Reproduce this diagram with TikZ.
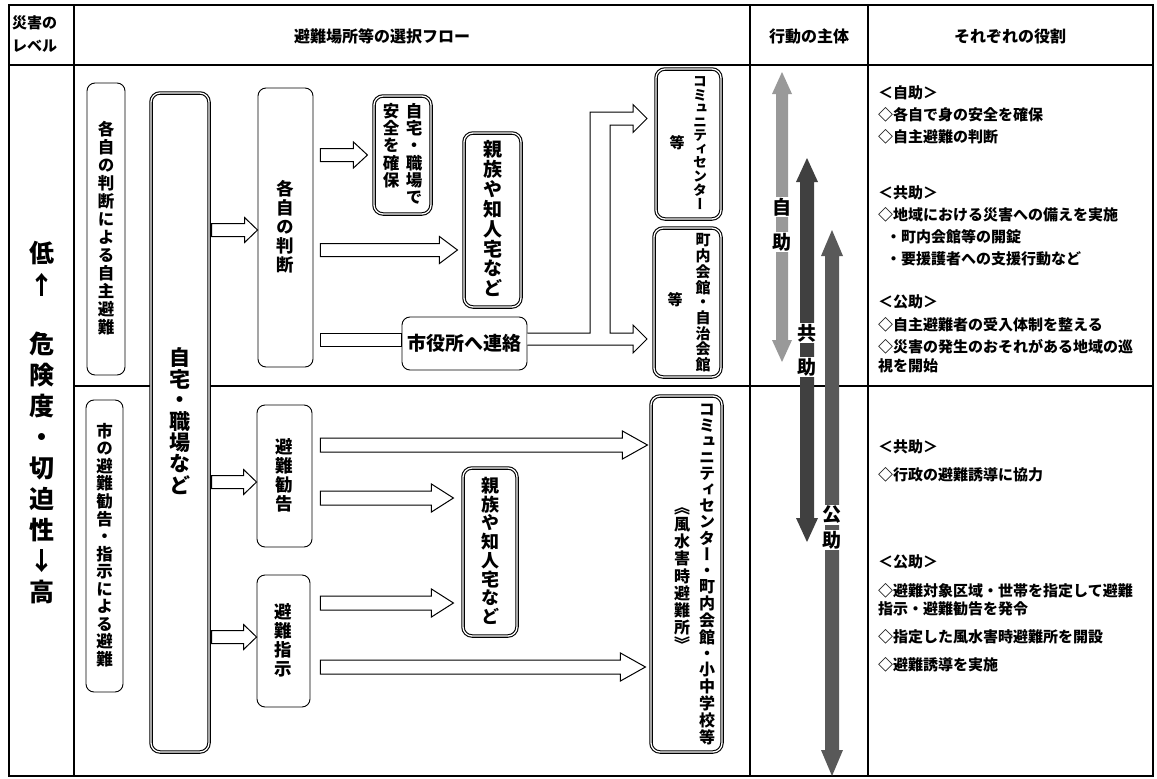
\documentclass[tikz,border=0pt]{standalone}
\usepackage{fontspec}
\setmainfont{Noto Sans CJK JP}
\newfontfamily\jpv[RawFeature=+vert]{Noto Sans CJK JP}
\usetikzlibrary{calc}
\makeatletter
\newcommand\vt[2]{\vtop{\offinterlineskip\@tfor\vt@c:=#2\do{\hbox to #1{\hss\vrule height \dimexpr #1*80/100\relax depth \dimexpr #1*20/100\relax width 0pt\relax\vt@c\hss}}}}
\makeatother
\newcommand\vf[1]{\jpv\bfseries\fontsize{#1}{#1}\selectfont}
% fat outline arrow: from, to, y, start gap, end gap, head length, shaft half, head half
\newcommand\fatar[8]{\draw[fatline] let \p1=(#1 |- 0,#3), \p2=(#2 |- 0,#3) in
 (\x1+#4,\y1+#7) -- (\x2-#5-#6,\y1+#7) -- (\x2-#5-#6,\y1+#8) -- (\x2-#5,\y1) -- (\x2-#5-#6,\y1-#8) -- (\x2-#5-#6,\y1-#7) -- (\x1+#4,\y1-#7) -- cycle;}
% vertical double arrow: x, ytop, ybot, shaft half, head half, head length, style
\newcommand\varr[7]{\fill[#7] (#1-#4,#2+#6) -- (#1-#5,#2+#6) -- (#1,#2) -- (#1+#5,#2+#6) -- (#1+#4,#2+#6) -- (#1+#4,#3-#6) -- (#1+#5,#3-#6) -- (#1,#3) -- (#1-#5,#3-#6) -- (#1-#4,#3-#6) -- cycle;}
\begin{document}
\begin{tikzpicture}[x=1pt,y=-1pt,
 sbox/.style={draw, line width=0.9pt, rounded corners=8pt, fill=white, inner sep=0pt},
 dbox/.style={draw, double, double distance=1.3pt, line width=1.1pt, rounded corners=9pt, fill=white, inner sep=0pt},
 fatline/.style={draw, line width=1pt, fill=white, line join=miter},
 tl/.style={inner sep=0pt},
 grid/.style={line width=1.3pt},
 role/.style={anchor=west, inner sep=0pt, font=\bfseries\fontsize{15}{15}\selectfont},
 hdr/.style={inner sep=0pt, font=\bfseries\fontsize{16}{16}\selectfont},
 actor/.style={fill=white, inner sep=1pt, font=\bfseries\fontsize{19}{19}\selectfont}]
\fill[white] (0,0) rectangle (1157,779);
\useasboundingbox (0,0) rectangle (1157,779);
% table grid
\draw[grid] (9,5) rectangle (1153,776);
\draw[grid] (9,65) -- (1153,65);
\draw[grid] (74,5) -- (74,776);
\draw[grid] (750,5) -- (750,776);
\draw[grid] (868,5) -- (868,776);
\draw[grid] (74,386) -- (1153,386);
% headers
\node[tl, anchor=west, font=\bfseries\fontsize{15}{15}\selectfont] (h1a) at (12,23) {災害の};
\node[tl, anchor=west, font=\bfseries\fontsize{15}{15}\selectfont] (h1b) at (12,46) {レベル};
\node[hdr] (h2) at (382,36) {避難場所等の選択フロー};
\node[hdr] (h3) at (809,36) {行動の主体};
\node[hdr] (h4) at (1010,36) {それぞれの役割};
% level column
\node[tl, font=\bfseries\fontsize{25}{25}\selectfont] (lv1) at (42,269) {\vt{32pt}{低↑}};
\node[tl, font=\bfseries\fontsize{25}{25}\selectfont] (lv2) at (42,468) {\vt{31pt}{危険度・切迫性↓高}};
% boxes upper
\node[sbox, minimum width=38, minimum height=292] (A) at (106,229) {\vf{16.5}\vt{18pt}{各自の判断による自主避難}};
\node[dbox, minimum width=58, minimum height=659] (B) at (180,422.5) {\vf{21}\vt{20pt}{自宅・職場など}};
\node[sbox, minimum width=55, minimum height=279] (C) at (285.5,227.5) {\vf{17.5}\vt{19pt}{各自の判断}};
\node[sbox, minimum width=125, minimum height=53] (D) at (464.5,343.5) {\bfseries\fontsize{19}{19}\selectfont 市役所へ連絡};
\node[dbox, minimum width=57, minimum height=118] (E) at (402.5,155) {\vf{16.5}\vt{17pt}{安全を確保}\kern6pt\vt{17pt}{自宅・職場で}};
\node[dbox, minimum width=57, minimum height=174] (F) at (492.5,220) {\vf{19}\vt{19.5pt}{親族や知人宅など}};
\node[dbox, minimum width=65, minimum height=150] (G) at (688.5,144) {};
\node[tl] (Gt) at (700,144) {\vf{14}\vt{13.5pt}{コミュニティセンター}};
\node[tl] (Ge) at (677,143) {\vf{15}等};
\node[dbox, minimum width=67, minimum height=149] (H) at (687.5,302.5) {};
\node[tl] (Ht) at (703,303.5) {\vf{15}\vt{14.5pt}{町内会館・自治会館}};
\node[tl] (He) at (675,300) {\vf{15}等};
% boxes lower
\node[sbox, minimum width=37, minimum height=292] (I) at (104.5,546) {\vf{16.5}\vt{17.5pt}{市の避難勧告・指示による避難}};
\node[sbox, minimum width=55, minimum height=142] (J) at (284.5,476) {\vf{17.5}\vt{19pt}{避難勧告}};
\node[sbox, minimum width=53, minimum height=132] (K) at (283.5,641) {\vf{17.5}\vt{19pt}{避難指示}};
\node[dbox, minimum width=71, minimum height=356] (L) at (686.5,574) {};
\node[tl] (Lt) at (707,575) {\vf{16}\vt{16pt}{コミュニティセンター・町内会館・小中学校等}};
\node[tl] (Le) at (682,577) {\vf{16}\vt{17pt}{《風水害時避難所》}};
\node[dbox, minimum width=54, minimum height=168] (M) at (490,552) {\vf{18}\vt{18pt}{親族や知人宅など}};
% arrows upper
\fatar{B.east}{C.west}{230}{2pt}{0pt}{13pt}{6.5pt}{12.5pt}
\fatar{C.east}{E.west}{155}{7pt}{6pt}{14pt}{6.5pt}{13pt}
\fatar{C.east}{F.west}{250}{7pt}{6pt}{18pt}{6.5pt}{13.5pt}
\draw[fatline] let \p1=(C.east |- 0,340), \p2=(D.west |- 0,340) in (\x1+7pt,\y1+6.5pt) rectangle (\x2,\y1-6.5pt);
\draw[fatline] (D.east |- 0,333) -- (590,333) -- (590,112) -- (633,112) -- (633,104.5) -- (647,118.5) -- (633,132.5) -- (633,125) -- (610,125) -- (610,333) -- (633,333) -- (633,325) -- (647,339) -- (633,353) -- (633,345) -- (D.east |- 0,345);
% arrows lower
\fatar{B.east}{J.west}{482}{2pt}{0pt}{13pt}{6.5pt}{12.5pt}
\fatar{B.east}{K.west}{637}{2pt}{0pt}{13pt}{6.5pt}{12.5pt}
\fatar{J.east}{L.west}{445}{8pt}{3pt}{25pt}{7pt}{14pt}
\fatar{J.east}{M.west}{498}{8pt}{9pt}{22pt}{7pt}{14pt}
\fatar{K.east}{M.west}{603}{10pt}{9pt}{22pt}{7pt}{14pt}
\fatar{K.east}{L.west}{667}{10pt}{5pt}{25pt}{7pt}{14pt}
% actors
\varr{782}{72}{362}{6}{10}{22}{black!40}
\varr{807}{158}{542}{7}{11}{24}{black!75}
\varr{832}{230}{776}{7}{11}{26}{black!65}
\node[actor] (s1) at (782,207) {自};
\node[actor] (s2) at (782,242) {助};
\node[actor] (k1) at (807,333) {共};
\node[actor] (k2) at (807,367) {助};
\node[actor] (p1) at (832,515) {公};
\node[actor] (p2) at (832,540) {助};
% roles
\node[role] (r1) at (878,93) {＜自助＞};
\node[role] (r2) at (878,115) {◇各自で身の安全を確保};
\node[role] (r3) at (878,137) {◇自主避難の判断};
\node[role] (r4) at (878,193) {＜共助＞};
\node[role] (r5) at (878,215) {◇地域における災害への備えを実施};
\node[role] (r6) at (886,237) {・町内会館等の開錠};
\node[role] (r7) at (886,259) {・要援護者への支援行動など};
\node[role] (r8) at (878,302) {＜公助＞};
\node[role] (r9) at (878,325) {◇自主避難者の受入体制を整える};
\node[role] (r10) at (878,347) {◇災害の発生のおそれがある地域の巡};
\node[role] (r11) at (878,366) {視を開始};
\node[role] (q1) at (878,447) {＜共助＞};
\node[role] (q2) at (878,475) {◇行政の避難誘導に協力};
\node[role] (q3) at (878,562) {＜公助＞};
\node[role] (q4) at (878,591) {◇避難対象区域・世帯を指定して避難};
\node[role] (q5) at (878,609) {指示・避難勧告を発令};
\node[role] (q6) at (878,637) {◇指定した風水害時避難所を開設};
\node[role] (q7) at (878,665) {◇避難誘導を実施};
\end{tikzpicture}
\end{document}
